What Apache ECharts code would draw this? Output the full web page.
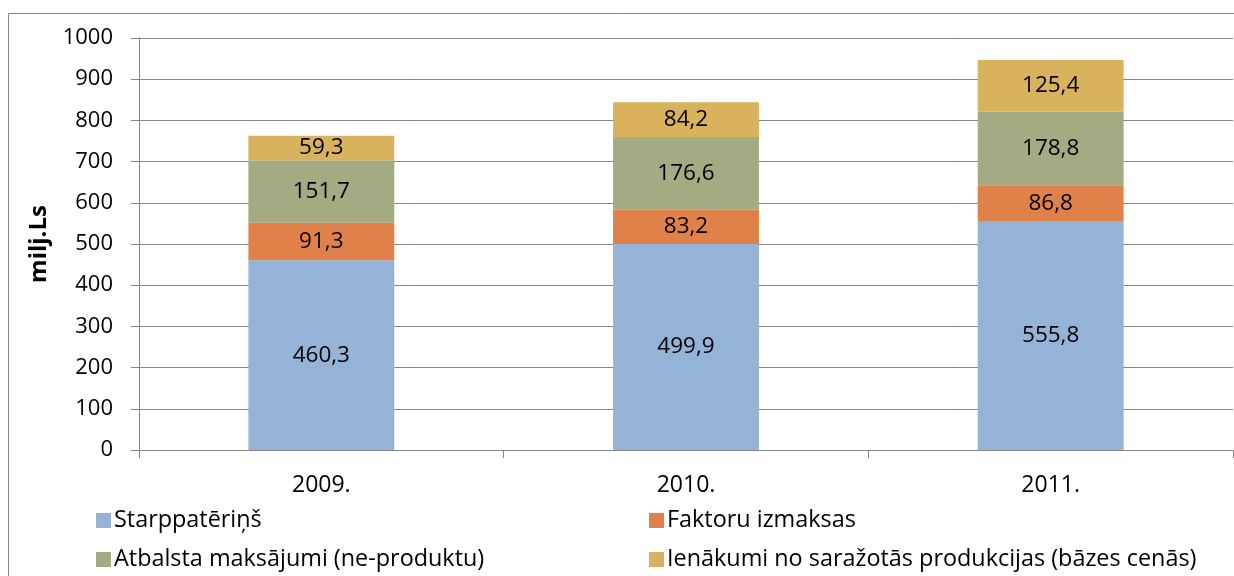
<!DOCTYPE html>
<html><head><meta charset="utf-8">
<script src="https://cdn.jsdelivr.net/npm/echarts@6/dist/echarts.min.js"></script>
<style>html,body{margin:0;padding:0;background:#fff}#c{width:1234px;height:576px}</style>
</head><body><div id="c"></div>
<script>
const categories = ['2009.', '2010.', '2011.'];
const seriesNames = ['Starppatēriņš', 'Faktoru izmaksas', 'Atbalsta maksājumi (ne-produktu)', 'Ienākumi no saražotās produkcijas (bāzes cenās)'];
const starppateri = [460.3, 499.9, 555.8];
const faktoru = [91.3, 83.2, 86.8];
const atbalsta = [151.7, 176.6, 178.8];
const ienakumi = [59.3, 84.2, 125.4];
const yTicks = [0, 100, 200, 300, 400, 500, 600, 700, 800, 900, 1000];
const yName = 'milj.Ls';

const colors = ['#95b3d7', '#e0814a', '#a4aa81', '#d8b25d'];
const FONT = 'Open Sans';
const allData = [starppateri, faktoru, atbalsta, ienakumi];

const chart = echarts.init(document.getElementById('c'));
const legendPos = [[96, 509], [649, 509], [96, 548], [649, 548]];
chart.setOption({
  animation: false,
  textStyle: { fontFamily: FONT },
  graphic: [{ type: 'rect', shape: { x: 8.5, y: 13.5, width: 1240, height: 600 }, style: { fill: 'none', stroke: '#868686', lineWidth: 1 } }],
  grid: { left: 139, right: 1, top: 38, bottom: 126, containLabel: false },
  legend: seriesNames.map((n, i) => ({
    data: [n], left: legendPos[i][0], top: legendPos[i][1], itemWidth: 15, itemHeight: 15, itemGap: 0,
    icon: 'rect', textStyle: { fontFamily: FONT, fontSize: 23.4, color: '#000', padding: [0, 0, 0, -2] }, padding: 0
  })),
  xAxis: {
    type: 'category', data: categories,
    axisLine: { lineStyle: { color: '#868686' } },
    axisTick: { show: true, length: 8, lineStyle: { color: '#868686' } },
    axisLabel: { fontSize: 23, color: '#000', margin: 24, fontFamily: FONT }
  },
  yAxis: {
    type: 'value', min: yTicks[0], max: yTicks[yTicks.length - 1], interval: yTicks[1] - yTicks[0],
    name: yName, nameLocation: 'middle', nameGap: 88, nameRotate: 90,
    nameTextStyle: { fontSize: 24, fontWeight: 'bold', color: '#000', fontFamily: FONT },
    axisLine: { show: true, lineStyle: { color: '#868686' } },
    axisTick: { show: true, length: 8, lineStyle: { color: '#868686' } },
    splitLine: { lineStyle: { color: '#868686' } },
    axisLabel: { fontSize: 22, color: '#000', margin: 26, fontFamily: FONT, formatter: v => String(v) }
  },
  series: seriesNames.map((n, i) => ({
    name: n, type: 'bar', stack: 'total', data: allData[i], barWidth: '40%',
    itemStyle: { color: colors[i] },
    label: { show: true, position: 'inside', fontSize: 22.5, color: '#000', fontFamily: FONT,
      formatter: p => p.value.toFixed(1).replace('.', ',') }
  }))
});
</script></body></html>
